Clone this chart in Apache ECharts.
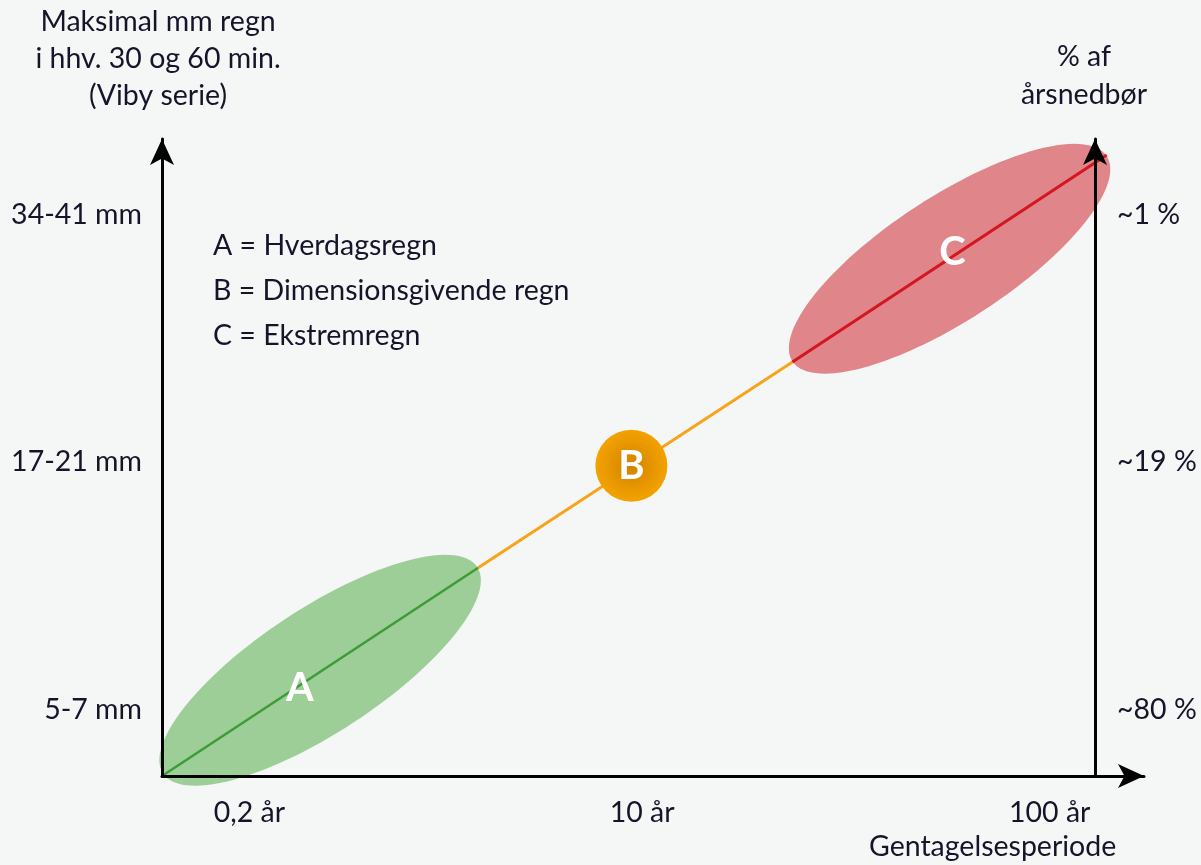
<!DOCTYPE html>
<html>
<head>
<meta charset="utf-8">
<script src="https://cdn.jsdelivr.net/npm/echarts@6/dist/echarts.min.js"></script>
<style>html,body{margin:0;padding:0;background:#f5f7f6;}#c{width:1201px;height:865px;}</style>
</head>
<body>
<div id="c"></div>
<script>
// ---- data (abstract coordinates 0..100 on both axes) ----
const xTickValues = [8.9, 48.9, 90.4];
const xTickLabels = ['0,2 år', '10 år', '100 år'];
const yTickValues = [10.4, 49.3, 88.1];
const leftTickLabels = ['5-7 mm', '17-21 mm', '34-41 mm'];
const rightTickLabels = ['~80 %', '~19 %', '~1 %'];

const segA = [[0, 0], [32.2, 32.7]];
const segB = [[32.2, 32.7], [64.2, 65.0]];
const segC = [[64.2, 65.0], [96.2, 97.5]];

const ellipseCenters = [[16.1, 16.6], [80.2, 81.2]];
const ellipseTips = [[32.1, 32.8], [96.2, 97.3]];
const ellipseMinorRatio = 0.33;

const bCircle = [[47.8, 48.7]];
const letterA = [[14.05, 13.8]];
const letterC = [[80.5, 82.3]];

const legendLines = ['A = Hverdagsregn', 'B = Dimensionsgivende regn', 'C = Ekstremregn'];
const leftAxisTitle = 'Maksimal mm regn\ni hhv. 30 og 60 min.\n(Viby serie)';
const rightAxisTitle = '% af\nårsnedbør';
const xAxisTitle = 'Gentagelsesperiode';

// ---- styling ----
const FONT = 'Lato';
const TXT = '#15152a';
const FS = 28.5;
const ellipseColors = ['#9dce97', '#e0858a'];

function pick(labels, values, v) {
  let best = 0, d = Infinity;
  values.forEach((t, i) => { if (Math.abs(t - v) < d) { d = Math.abs(t - v); best = i; } });
  return labels[best];
}

const chart = echarts.init(document.getElementById('c'), null, {renderer: 'canvas'});
const arrow = ['none', 'arrow'];
const arrowSize = [18, 26];

const ellipseData = ellipseCenters.map((c, i) => [c[0], c[1], ellipseTips[i][0], ellipseTips[i][1]]);

const option = {
  backgroundColor: '#f5f7f6',
  animation: false,
  textStyle: {fontFamily: FONT},
  grid: {left: 162, right: 57, top: 139, bottom: 89, containLabel: false},
  xAxis: {
    type: 'value', min: 0, max: 100, z: 10,
    splitLine: {show: false},
    axisTick: {show: false},
    axisLine: {show: true, symbol: arrow, symbolSize: arrowSize, lineStyle: {color: '#000', width: 3}},
    axisLabel: {
      show: true, customValues: xTickValues, margin: 22,
      color: TXT, fontSize: FS, fontFamily: FONT,
      formatter: v => pick(xTickLabels, xTickValues, v)
    }
  },
  yAxis: [{
    type: 'value', min: 0, max: 100, position: 'left', z: 10,
    splitLine: {show: false},
    axisTick: {show: false},
    axisLine: {show: true, onZero: false, symbol: arrow, symbolSize: arrowSize, lineStyle: {color: '#000', width: 3}},
    axisLabel: {
      show: true, customValues: yTickValues, margin: 20,
      color: TXT, fontSize: FS, fontFamily: FONT,
      formatter: v => pick(leftTickLabels, yTickValues, v)
    },
    name: leftAxisTitle, nameLocation: 'end', nameGap: 25,
    nameTextStyle: {color: TXT, fontSize: FS, fontFamily: FONT, lineHeight: 37, align: 'center', padding: [0, 8, 0, 0]}
  }, {
    type: 'value', min: 0, max: 100, position: 'right', offset: -49, z: 10,
    splitLine: {show: false},
    axisTick: {show: false},
    axisLine: {show: true, onZero: false, symbol: arrow, symbolSize: arrowSize, lineStyle: {color: '#000', width: 3}},
    axisLabel: {
      show: true, customValues: yTickValues, margin: 22,
      color: TXT, fontSize: FS, fontFamily: FONT,
      formatter: v => pick(rightTickLabels, yTickValues, v)
    },
    name: rightAxisTitle, nameLocation: 'end', nameGap: 25,
    nameTextStyle: {color: TXT, fontSize: FS, fontFamily: FONT, lineHeight: 38, align: 'center', padding: [0, 22, 0, 0]}
  }],
  graphic: [
    ...legendLines.map((t, i) => ({
      type: 'text', left: 213, top: 231 + i * 45, z: 100,
      style: {text: t, font: FS + 'px ' + FONT, fill: TXT}
    })),
    {type: 'text', left: 869, top: 832, z: 100, style: {text: xAxisTitle, font: FS + 'px ' + FONT, fill: TXT}}
  ],
  series: [
    {
      type: 'custom', clip: false, z: 1,
      encode: {x: [0, 2], y: [1, 3]},
      data: ellipseData,
      renderItem: function (params, api) {
        const c = api.coord([api.value(0), api.value(1)]);
        const t = api.coord([api.value(2), api.value(3)]);
        const ux = t[0] - c[0], uy = t[1] - c[1];
        const nx = -uy * ellipseMinorRatio, ny = ux * ellipseMinorRatio;
        const pts = [];
        for (let k = 0; k < 120; k++) {
          const a = k / 120 * Math.PI * 2;
          pts.push([c[0] + ux * Math.cos(a) + nx * Math.sin(a), c[1] + uy * Math.cos(a) + ny * Math.sin(a)]);
        }
        return {type: 'polygon', shape: {points: pts}, style: {fill: ellipseColors[params.dataIndex]}};
      }
    },
    {type: 'line', data: segA, symbol: 'none', clip: false, z: 3, lineStyle: {color: '#3c9d36', width: 2.5}},
    {type: 'line', data: segB, symbol: 'none', clip: false, z: 3, lineStyle: {color: '#f7a31c', width: 3}},
    {type: 'line', data: segC, symbol: 'none', clip: false, z: 3, lineStyle: {color: '#d3161f', width: 3}},
    {
      type: 'scatter', data: bCircle, symbolSize: 72, z: 5, clip: false,
      itemStyle: {opacity: 1, color: {type: 'radial', x: 0.5, y: 0.5, r: 0.5,
        colorStops: [{offset: 0, color: '#d08300'}, {offset: 0.7, color: '#ea9900'}, {offset: 1, color: '#f3a200'}]}},
      label: {show: true, position: 'inside', formatter: 'B', color: '#fff', fontSize: 40, fontWeight: 'bold', fontFamily: FONT}
    },
    {
      type: 'scatter', data: letterA, symbolSize: 1, z: 6, clip: false,
      itemStyle: {opacity: 1, color: 'rgba(0,0,0,0)'},
      label: {show: true, position: 'inside', formatter: 'A', color: '#ffffff', opacity: 1, fontSize: 40, fontWeight: 'bold', fontFamily: FONT}
    },
    {
      type: 'scatter', data: letterC, symbolSize: 1, z: 6, clip: false,
      itemStyle: {opacity: 1, color: 'rgba(0,0,0,0)'},
      label: {show: true, position: 'inside', formatter: 'C', color: '#ffffff', opacity: 1, fontSize: 40, fontWeight: 'bold', fontFamily: FONT}
    }
  ]
};
chart.setOption(option);
</script>
</body>
</html>
